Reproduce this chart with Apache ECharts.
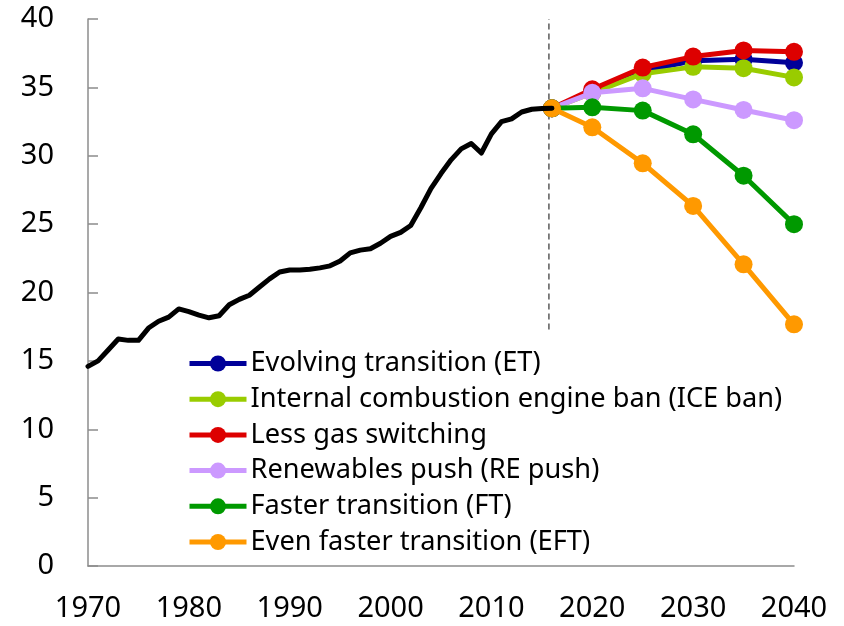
<!DOCTYPE html>
<html>
<head>
<meta charset="utf-8">
<script src="https://cdn.jsdelivr.net/npm/echarts@6/dist/echarts.min.js"></script>
<style>
html,body{margin:0;padding:0;background:#fff;}
#chart{width:844px;height:626px;}
</style>
</head>
<body>
<div id="chart"></div>
<script>
// Historical data
const histYears = [1970,1971,1972,1973,1974,1975,1976,1977,1978,1979,1980,1981,1982,1983,1984,1985,1986,1987,1988,1989,1990,1991,1992,1993,1994,1995,1996,1997,1998,1999,2000,2001,2002,2003,2004,2005,2006,2007,2008,2009,2010,2011,2012,2013,2014,2015,2016];
const histValues = [14.6,15.0,15.8,16.6,16.5,16.5,17.4,17.9,18.2,18.8,18.6,18.35,18.15,18.3,19.1,19.5,19.8,20.4,21.0,21.5,21.65,21.65,21.7,21.8,21.95,22.3,22.9,23.1,23.2,23.6,24.1,24.4,24.9,26.2,27.6,28.7,29.7,30.5,30.9,30.2,31.6,32.5,32.7,33.2,33.4,33.45,33.47];

// Scenario projections
const scenarioYears = [2016,2020,2025,2030,2035,2040];
const scenarioNames = [
  "Evolving transition (ET)",
  "Internal combustion engine ban (ICE ban)",
  "Less gas switching",
  "Renewables push (RE push)",
  "Faster transition (FT)",
  "Even faster transition (EFT)"
];
const etValues    = [33.47,34.7,36.2,36.95,37.05,36.8];
const iceValues   = [33.47,34.6,36.0,36.5,36.4,35.73];
const gasValues   = [33.47,34.86,36.45,37.25,37.7,37.6];
const reValues    = [33.47,34.6,34.93,34.12,33.35,32.6];
const ftValues    = [33.47,33.54,33.3,31.57,28.54,25.0];
const eftValues   = [33.47,32.08,29.45,26.33,22.06,17.67];
const scenarioValues = [etValues, iceValues, gasValues, reValues, ftValues, eftValues];
const scenarioColors = ["#000099","#99CC00","#DD0000","#CC99FF","#009900","#FF9900"];

// Divider (dashed vertical line)
const dividerYears = [2015.7, 2015.7];
const dividerValues = [17.3, 40];

// Axis ticks
const xTicks = [1970,1980,1990,2000,2010,2020,2030,2040];
const yTicks = [0,5,10,15,20,25,30,35,40];

const font = "'Noto Sans', 'Open Sans', sans-serif";

const zip = (xs, ys) => xs.map((x, i) => [x, ys[i]]);

const series = [];
series.push({
  type: 'line',
  name: 'divider',
  data: zip(dividerYears, dividerValues),
  symbol: 'none',
  silent: true,
  lineStyle: {color: '#595959', width: 1.5, type: [6, 4]},
  z: 1
});
scenarioNames.forEach((name, i) => {
  series.push({
    type: 'line',
    name: name,
    data: zip(scenarioYears, scenarioValues[i]),
    symbol: 'circle',
    symbolSize: 18,
    showAllSymbol: true,
    color: scenarioColors[i],
    lineStyle: {color: scenarioColors[i], width: 5},
    itemStyle: {color: scenarioColors[i]},
    z: 2 + i
  });
});
series.push({
  type: 'line',
  name: 'History',
  data: zip(histYears, histValues),
  symbol: 'none',
  lineStyle: {color: '#000000', width: 5, join: 'round', cap: 'round'},
  color: '#000',
  z: 20
});

const chart = echarts.init(document.getElementById('chart'), null, {renderer: 'canvas'});
chart.setOption({
  animation: false,
  backgroundColor: '#ffffff',
  grid: {left: 88, right: 50, top: 19, bottom: 60, containLabel: false},
  xAxis: {
    type: 'value',
    min: xTicks[0],
    max: xTicks[xTicks.length - 1],
    interval: 10,
    axisLine: {lineStyle: {color: '#8c8c8c', width: 1.5}},
    axisTick: {show: false},
    splitLine: {show: false},
    axisLabel: {
      fontFamily: font, fontSize: 29, color: '#000', margin: 28,
      formatter: v => String(v)
    }
  },
  yAxis: {
    type: 'value',
    min: yTicks[0],
    max: yTicks[yTicks.length - 1],
    interval: 5,
    axisLine: {show: true, lineStyle: {color: '#8c8c8c', width: 1.5}},
    axisTick: {show: true, inside: true, length: 10, lineStyle: {color: '#8c8c8c', width: 1.5}},
    splitLine: {show: false},
    axisLabel: {fontFamily: font, fontSize: 29, color: '#000', margin: 34}
  },
  legend: {
    data: scenarioNames,
    orient: 'vertical',
    left: 187,
    top: 350,
    padding: 0,
    itemWidth: 57,
    itemHeight: 20,
    itemGap: 8.7,
    lineStyle: {width: 5},
    textStyle: {fontFamily: font, fontSize: 27.2, lineHeight: 24, color: '#000', padding: [0,0,0,-1]},
    selectedMode: false
  },
  series: series
});
</script>
</body>
</html>
